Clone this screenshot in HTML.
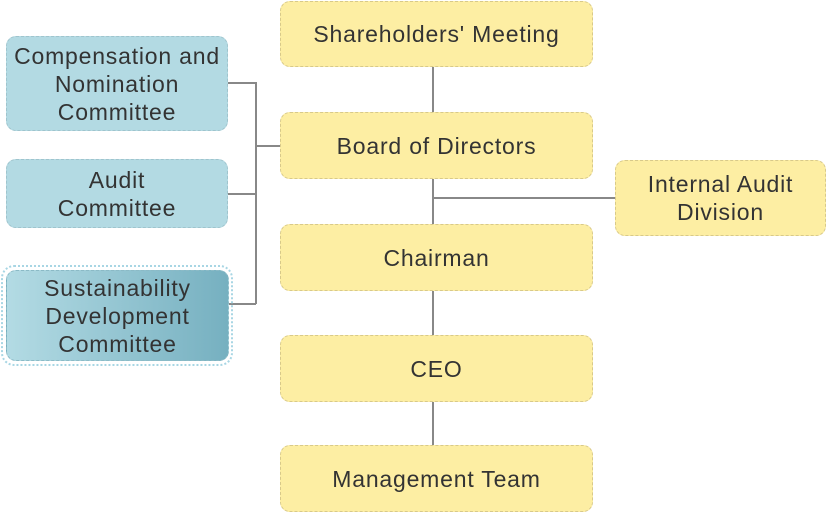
<!DOCTYPE html>
<html><head><style>
body{margin:0;width:826px;height:512px;background:#fff;position:relative;overflow:hidden;font-family:"Liberation Sans",sans-serif;color:#333;}
.b{position:absolute;box-sizing:border-box;border:1px dashed #d8c98a;border-radius:10px;background:#fdeea3;display:flex;align-items:center;justify-content:center;text-align:center;font-size:23px;letter-spacing:0.8px;line-height:28px;}
.c{background:#b3dae3;border-color:#9fc4cd;}
.l{position:absolute;background:#888;}
</style></head><body>
<div class="l" style="left:432px;top:66px;width:1.5px;height:380px"></div>
<div class="l" style="left:433px;top:197px;width:183px;height:1.5px"></div>
<div class="l" style="left:255px;top:82px;width:1.5px;height:222px"></div>
<div class="l" style="left:227px;top:82px;width:29px;height:1.5px"></div>
<div class="l" style="left:227px;top:193px;width:29px;height:1.5px"></div>
<div class="l" style="left:228px;top:303px;width:28px;height:1.5px"></div>
<div class="l" style="left:255px;top:145px;width:26px;height:1.5px"></div>

<div class="b" style="left:280px;top:1px;width:313px;height:66px">Shareholders' Meeting</div>
<div class="b" style="left:280px;top:112px;width:313px;height:67px">Board of Directors</div>
<div class="b" style="left:280px;top:224px;width:313px;height:67px">Chairman</div>
<div class="b" style="left:280px;top:335px;width:313px;height:67px">CEO</div>
<div class="b" style="left:280px;top:445px;width:313px;height:67px">Management Team</div>
<div class="b" style="left:615px;top:160px;width:211px;height:76px">Internal Audit<br>Division</div>

<div class="b c" style="left:6px;top:36px;width:222px;height:95px">Compensation and<br>Nomination<br>Committee</div>
<div class="b c" style="left:6px;top:159px;width:222px;height:69px">Audit<br>Committee</div>
<div style="position:absolute;left:1px;top:265px;width:232px;height:101px;box-sizing:border-box;border:2px dotted #a8d6e4;border-radius:13px"></div>
<div class="b c" style="left:6px;top:270px;width:223px;height:91px;background:linear-gradient(90deg,#b3dbe4,#76b0c0);border-color:#8bbac6">Sustainability<br>Development<br>Committee</div>
</body></html>
